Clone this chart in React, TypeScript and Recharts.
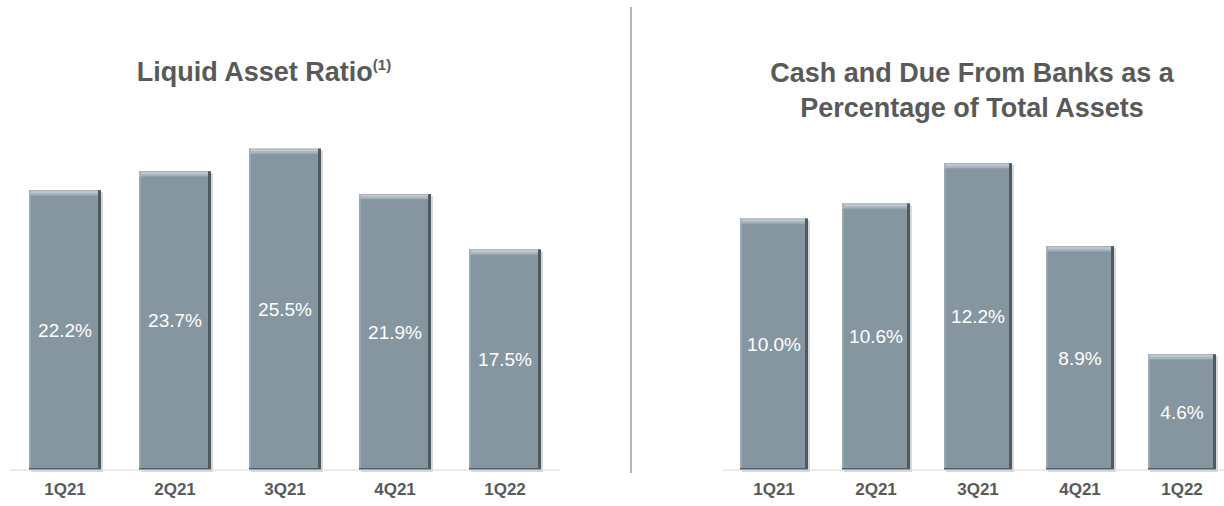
import React from "react";
import { BarChart, Bar, XAxis, YAxis, LabelList } from "recharts";

const quarters = ["1Q21", "2Q21", "3Q21", "4Q21", "1Q22"];
const liquidAssetRatio = [22.2, 23.7, 25.5, 21.9, 17.5];
const cashDueRatio = [10.0, 10.6, 12.2, 8.9, 4.6];

const leftData = quarters.map((q, i) => ({ q, v: liquidAssetRatio[i] }));
const rightData = quarters.map((q, i) => ({ q, v: cashDueRatio[i] }));

const FONT = "Arial, 'Liberation Sans', sans-serif";

const BevelBar = (props: any) => {
  const { x, y, width, height } = props;
  if (!height || height <= 0) return null;
  return (
    <g>
      <rect x={x + 2} y={y + 2} width={width} height={height} fill="#b9bfc4" opacity={0.6} />
      <rect x={x} y={y} width={width} height={height} fill="#8696a0" />
      <rect x={x} y={y} width={2} height={height} fill="#97a6af" />
      <rect x={x} y={y} width={width} height={5} fill="#a6b4bd" />
      <rect x={x + 2} y={y + 1} width={width - 5} height={1.5} fill="#c3cdd3" />
      <rect x={x + width - 3} y={y} width={3} height={height} fill="#4e5a62" />
      <rect x={x} y={y + height - 2} width={width} height={2} fill="#56626a" />
    </g>
  );
};

const fmt = (v: any) => `${Number(v).toFixed(1)}%`;

const tickStyle = { fill: "#595959", fontSize: 17, fontWeight: "bold" as const, fontFamily: FONT };

export default function App() {
  return (
    <div
      style={{
        position: "absolute",
        left: 0,
        top: 0,
        width: 1224,
        height: 506,
        overflow: "hidden",
        background: "#ffffff",
        fontFamily: FONT,
      }}
    >
      <div style={{ position: "absolute", left: 0, top: 0 }}>
        <BarChart width={620} height={506} data={leftData} margin={{ top: 92, right: 60, left: 10, bottom: 6 }}>
          <YAxis hide domain={[0, 30]} />
          <XAxis
            dataKey="q"
            height={30}
            tickLine={false}
            tickMargin={7}
            axisLine={{ stroke: "#d9d9d9" }}
            tick={tickStyle}
          />
          <Bar dataKey="v" barSize={72} shape={<BevelBar />} isAnimationActive={false}>
            <LabelList dataKey="v" position="center" formatter={fmt} fill="#ffffff" fontSize={19} fontFamily={FONT} />
          </Bar>
        </BarChart>
      </div>
      <div style={{ position: "absolute", left: 640, top: 0 }}>
        <BarChart width={600} height={506} data={rightData} margin={{ top: 118, right: 7, left: 83, bottom: 6 }}>
          <YAxis hide domain={[0, 14]} />
          <XAxis
            dataKey="q"
            height={30}
            tickLine={false}
            tickMargin={7}
            axisLine={{ stroke: "#d9d9d9" }}
            tick={tickStyle}
          />
          <Bar dataKey="v" barSize={68} shape={<BevelBar />} isAnimationActive={false}>
            <LabelList dataKey="v" position="center" formatter={fmt} fill="#ffffff" fontSize={19} fontFamily={FONT} />
          </Bar>
        </BarChart>
      </div>
      <svg
        width={1224}
        height={506}
        style={{ position: "absolute", left: 0, top: 0, pointerEvents: "none" }}
      >
        <text x={264} y={81} textAnchor="middle" fill="#595959" fontSize={27} fontWeight="bold" fontFamily={FONT}>
          Liquid Asset Ratio
          <tspan fontSize={15} dy={-11}>(1)</tspan>
        </text>
        <text x={972} y={82} textAnchor="middle" fill="#595959" fontSize={27} fontWeight="bold" fontFamily={FONT}>
          Cash and Due From Banks as a
        </text>
        <text x={972} y={117} textAnchor="middle" fill="#595959" fontSize={27} fontWeight="bold" fontFamily={FONT}>
          Percentage of Total Assets
        </text>
        <line x1={631} y1={7} x2={631} y2={473} stroke="#6f6f6f" strokeWidth={1} />
      </svg>
    </div>
  );
}
